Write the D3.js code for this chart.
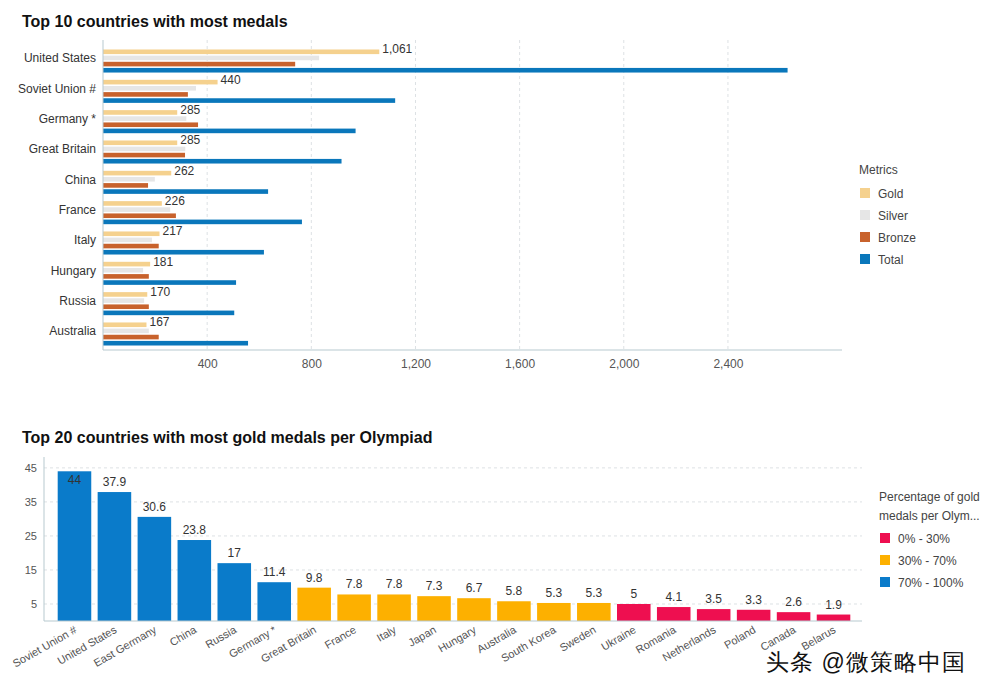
<!DOCTYPE html>
<html><head><meta charset="utf-8">
<script src="https://cdn.jsdelivr.net/npm/d3@7"></script>
<style>
body{margin:0;background:#fff;}
text{font-family:"Liberation Sans",Arial,sans-serif;}
</style></head>
<body><svg id="c" width="993" height="693"></svg>
<script>
// ---------- data: top chart ----------
const countries = ["United States","Soviet Union #","Germany *","Great Britain","China","France","Italy","Hungary","Russia","Australia"];
const metrics = ["Gold","Silver","Bronze","Total"];
const gold   = [1061, 440, 285, 285, 262, 226, 217, 181, 170, 167];
const silver = [830, 357, 320, 316, 199, 258, 188, 154, 158, 176];
const bronze = [738, 326, 365, 315, 173, 280, 214, 176, 176, 214];
const total  = [2629, 1122, 970, 916, 634, 764, 618, 511, 504, 557];
const xTicks = [400, 800, 1200, 1600, 2000, 2400];

// ---------- data: bottom chart ----------
const countries20 = ["Soviet Union #","United States","East Germany","China","Russia","Germany *","Great Britain","France","Italy","Japan","Hungary","Australia","South Korea","Sweden","Ukraine","Romania","Netherlands","Poland","Canada","Belarus"];
const goldPerOlympiad = [44, 37.9, 30.6, 23.8, 17, 11.4, 9.8, 7.8, 7.8, 7.3, 6.7, 5.8, 5.3, 5.3, 5, 4.1, 3.5, 3.3, 2.6, 1.9];
const pctGroup = ["70% - 100%","70% - 100%","70% - 100%","70% - 100%","70% - 100%","70% - 100%","30% - 70%","30% - 70%","30% - 70%","30% - 70%","30% - 70%","30% - 70%","30% - 70%","30% - 70%","0% - 30%","0% - 30%","0% - 30%","0% - 30%","0% - 30%","0% - 30%"];
const pctLegend = ["0% - 30%","30% - 70%","70% - 100%"];
const yTicks = [5, 15, 25, 35, 45];

const svg = d3.select("#c");
const axisColor = "#b7c9cf", gridColor = "#dde1e4";

// ================= TOP CHART =================
const metricColor = d3.scaleOrdinal().domain(metrics).range(["#f5d18e","#e6e6e6","#c8622c","#0a77bb"]);
const series = {Gold: gold, Silver: silver, Bronze: bronze, Total: total};

svg.append("text").attr("x", 22).attr("y", 27).attr("font-size", 16).attr("font-weight", "bold")
  .attr("fill", "#111").text("Top 10 countries with most medals");

const x = d3.scaleLinear().domain([0, 2838]).range([103, 842]);
const y0 = d3.scaleBand().domain(countries).range([43, 352]).paddingInner(0.24).paddingOuter(0.214);
const y1 = d3.scaleBand().domain(metrics).range([0, y0.bandwidth()]).paddingInner(0.25);

// grid
svg.append("g").selectAll("line").data(xTicks).join("line")
  .attr("x1", d => x(d)).attr("x2", d => x(d)).attr("y1", 40).attr("y2", 350)
  .attr("stroke", gridColor).attr("stroke-dasharray", "3,3");

const grp = svg.append("g").selectAll("g").data(countries).join("g")
  .attr("transform", d => `translate(0,${y0(d)})`);
grp.selectAll("rect").data((c, i) => metrics.map(m => ({m, v: series[m][i]}))).join("rect")
  .attr("x", x(0)).attr("y", d => y1(d.m)).attr("height", y1.bandwidth())
  .attr("width", d => x(d.v) - x(0)).attr("fill", d => metricColor(d.m));
grp.append("text").attr("x", (c, i) => x(gold[i]) + 3).attr("y", y1("Gold") + 4)
  .attr("font-size", 12).attr("fill", "#333").text((c, i) => d3.format(",")(gold[i]));

// axes
const xAxis = svg.append("g").attr("transform", "translate(0,350)")
  .call(d3.axisBottom(x).tickValues(xTicks).tickFormat(d3.format(",")).tickSize(0).tickPadding(9));
xAxis.select(".domain").attr("stroke", axisColor).attr("d", "M103,0H842");
xAxis.selectAll("text").attr("font-size", 12).attr("fill", "#555").attr("font-family", "Liberation Sans, Arial, sans-serif");

const yAxis = svg.append("g").attr("transform", "translate(103,0)")
  .call(d3.axisLeft(y0).tickSize(0).tickPadding(7));
yAxis.select(".domain").attr("stroke", axisColor).attr("d", "M0,40V350");
yAxis.selectAll("text").attr("font-size", 12).attr("fill", "#333").attr("dy", "0.1em")
  .attr("font-family", "Liberation Sans, Arial, sans-serif");

// legend
svg.append("text").attr("x", 859).attr("y", 174).attr("font-size", 12).attr("fill", "#444").text("Metrics");
const lg = svg.append("g").selectAll("g").data(metrics).join("g")
  .attr("transform", (d, i) => `translate(860,${188 + i * 22})`);
lg.append("rect").attr("width", 10).attr("height", 10).attr("fill", d => metricColor(d));
lg.append("text").attr("x", 18).attr("y", 9.5).attr("font-size", 12).attr("fill", "#444").text(d => d);

// ================= BOTTOM CHART =================
const pctColor = d3.scaleOrdinal().domain(pctLegend).range(["#ee0f50","#fdb000","#0a7bca"]);

svg.append("text").attr("x", 22).attr("y", 443).attr("font-size", 16).attr("font-weight", "bold")
  .attr("fill", "#111").text("Top 20 countries with most gold medals per Olympiad");

const xb = d3.scaleBand().domain(countries20).range([54.5, 853.5]).paddingInner(0.16).paddingOuter(0.08);
const yb = d3.scaleLinear().domain([0, 48.2]).range([621, 457]);

svg.append("g").selectAll("line").data(yTicks).join("line")
  .attr("x1", 44).attr("x2", 862).attr("y1", d => yb(d)).attr("y2", d => yb(d))
  .attr("stroke", gridColor).attr("stroke-dasharray", "3,3");

svg.append("g").selectAll("rect").data(countries20).join("rect")
  .attr("x", d => xb(d)).attr("width", xb.bandwidth())
  .attr("y", (d, i) => yb(goldPerOlympiad[i])).attr("height", (d, i) => yb(0) - yb(goldPerOlympiad[i]))
  .attr("fill", (d, i) => pctColor(pctGroup[i]));

svg.append("g").selectAll("text").data(countries20).join("text")
  .attr("x", d => xb(d) + xb.bandwidth() / 2)
  .attr("y", (d, i) => { const t = yb(goldPerOlympiad[i]); return t - 6 < 470 ? t + 9 : t - 6; })
  .attr("dy", (d, i) => yb(goldPerOlympiad[i]) - 6 < 470 ? "0.35em" : 0)
  .attr("text-anchor", "middle").attr("font-size", 12).attr("fill", "#333")
  .text((d, i) => goldPerOlympiad[i]);

const xbAxis = svg.append("g").attr("transform", "translate(0,621)")
  .call(d3.axisBottom(xb).tickSize(0).tickPadding(0));
xbAxis.select(".domain").attr("stroke", axisColor).attr("d", "M44,0H862");
xbAxis.selectAll("text").attr("font-size", 11).attr("fill", "#555").attr("text-anchor", "end")
  .attr("font-family", "Liberation Sans, Arial, sans-serif")
  .attr("dy", 0).attr("y", 0).attr("transform", "translate(3,11) rotate(-30)");

const ybAxis = svg.append("g").attr("transform", "translate(44,0)")
  .call(d3.axisLeft(yb).tickValues(yTicks).tickSize(0).tickPadding(7));
ybAxis.select(".domain").attr("stroke", axisColor).attr("d", "M0,457V621");
ybAxis.selectAll("text").attr("font-size", 11).attr("fill", "#555").attr("font-family", "Liberation Sans, Arial, sans-serif");

// legend
svg.append("text").attr("x", 879).attr("y", 501).attr("font-size", 12).attr("fill", "#444").text("Percentage of gold");
svg.append("text").attr("x", 879).attr("y", 520).attr("font-size", 12).attr("fill", "#444").text("medals per Olym...");
const lg2 = svg.append("g").selectAll("g").data(pctLegend).join("g")
  .attr("transform", (d, i) => `translate(880,${533 + i * 22})`);
lg2.append("rect").attr("width", 10).attr("height", 10).attr("fill", d => pctColor(d));
lg2.append("text").attr("x", 18).attr("y", 9.5).attr("font-size", 12).attr("fill", "#444").text(d => d);

// watermark
svg.append("text").attr("x", 766).attr("y", 670).attr("font-size", 23).attr("letter-spacing", 1)
  .attr("font-family", "Noto Sans CJK SC, sans-serif").attr("fill", "#111")
  .attr("stroke", "#fff").attr("stroke-width", 3).attr("paint-order", "stroke")
  .text("头条 @微策略中国");
</script></body></html>
